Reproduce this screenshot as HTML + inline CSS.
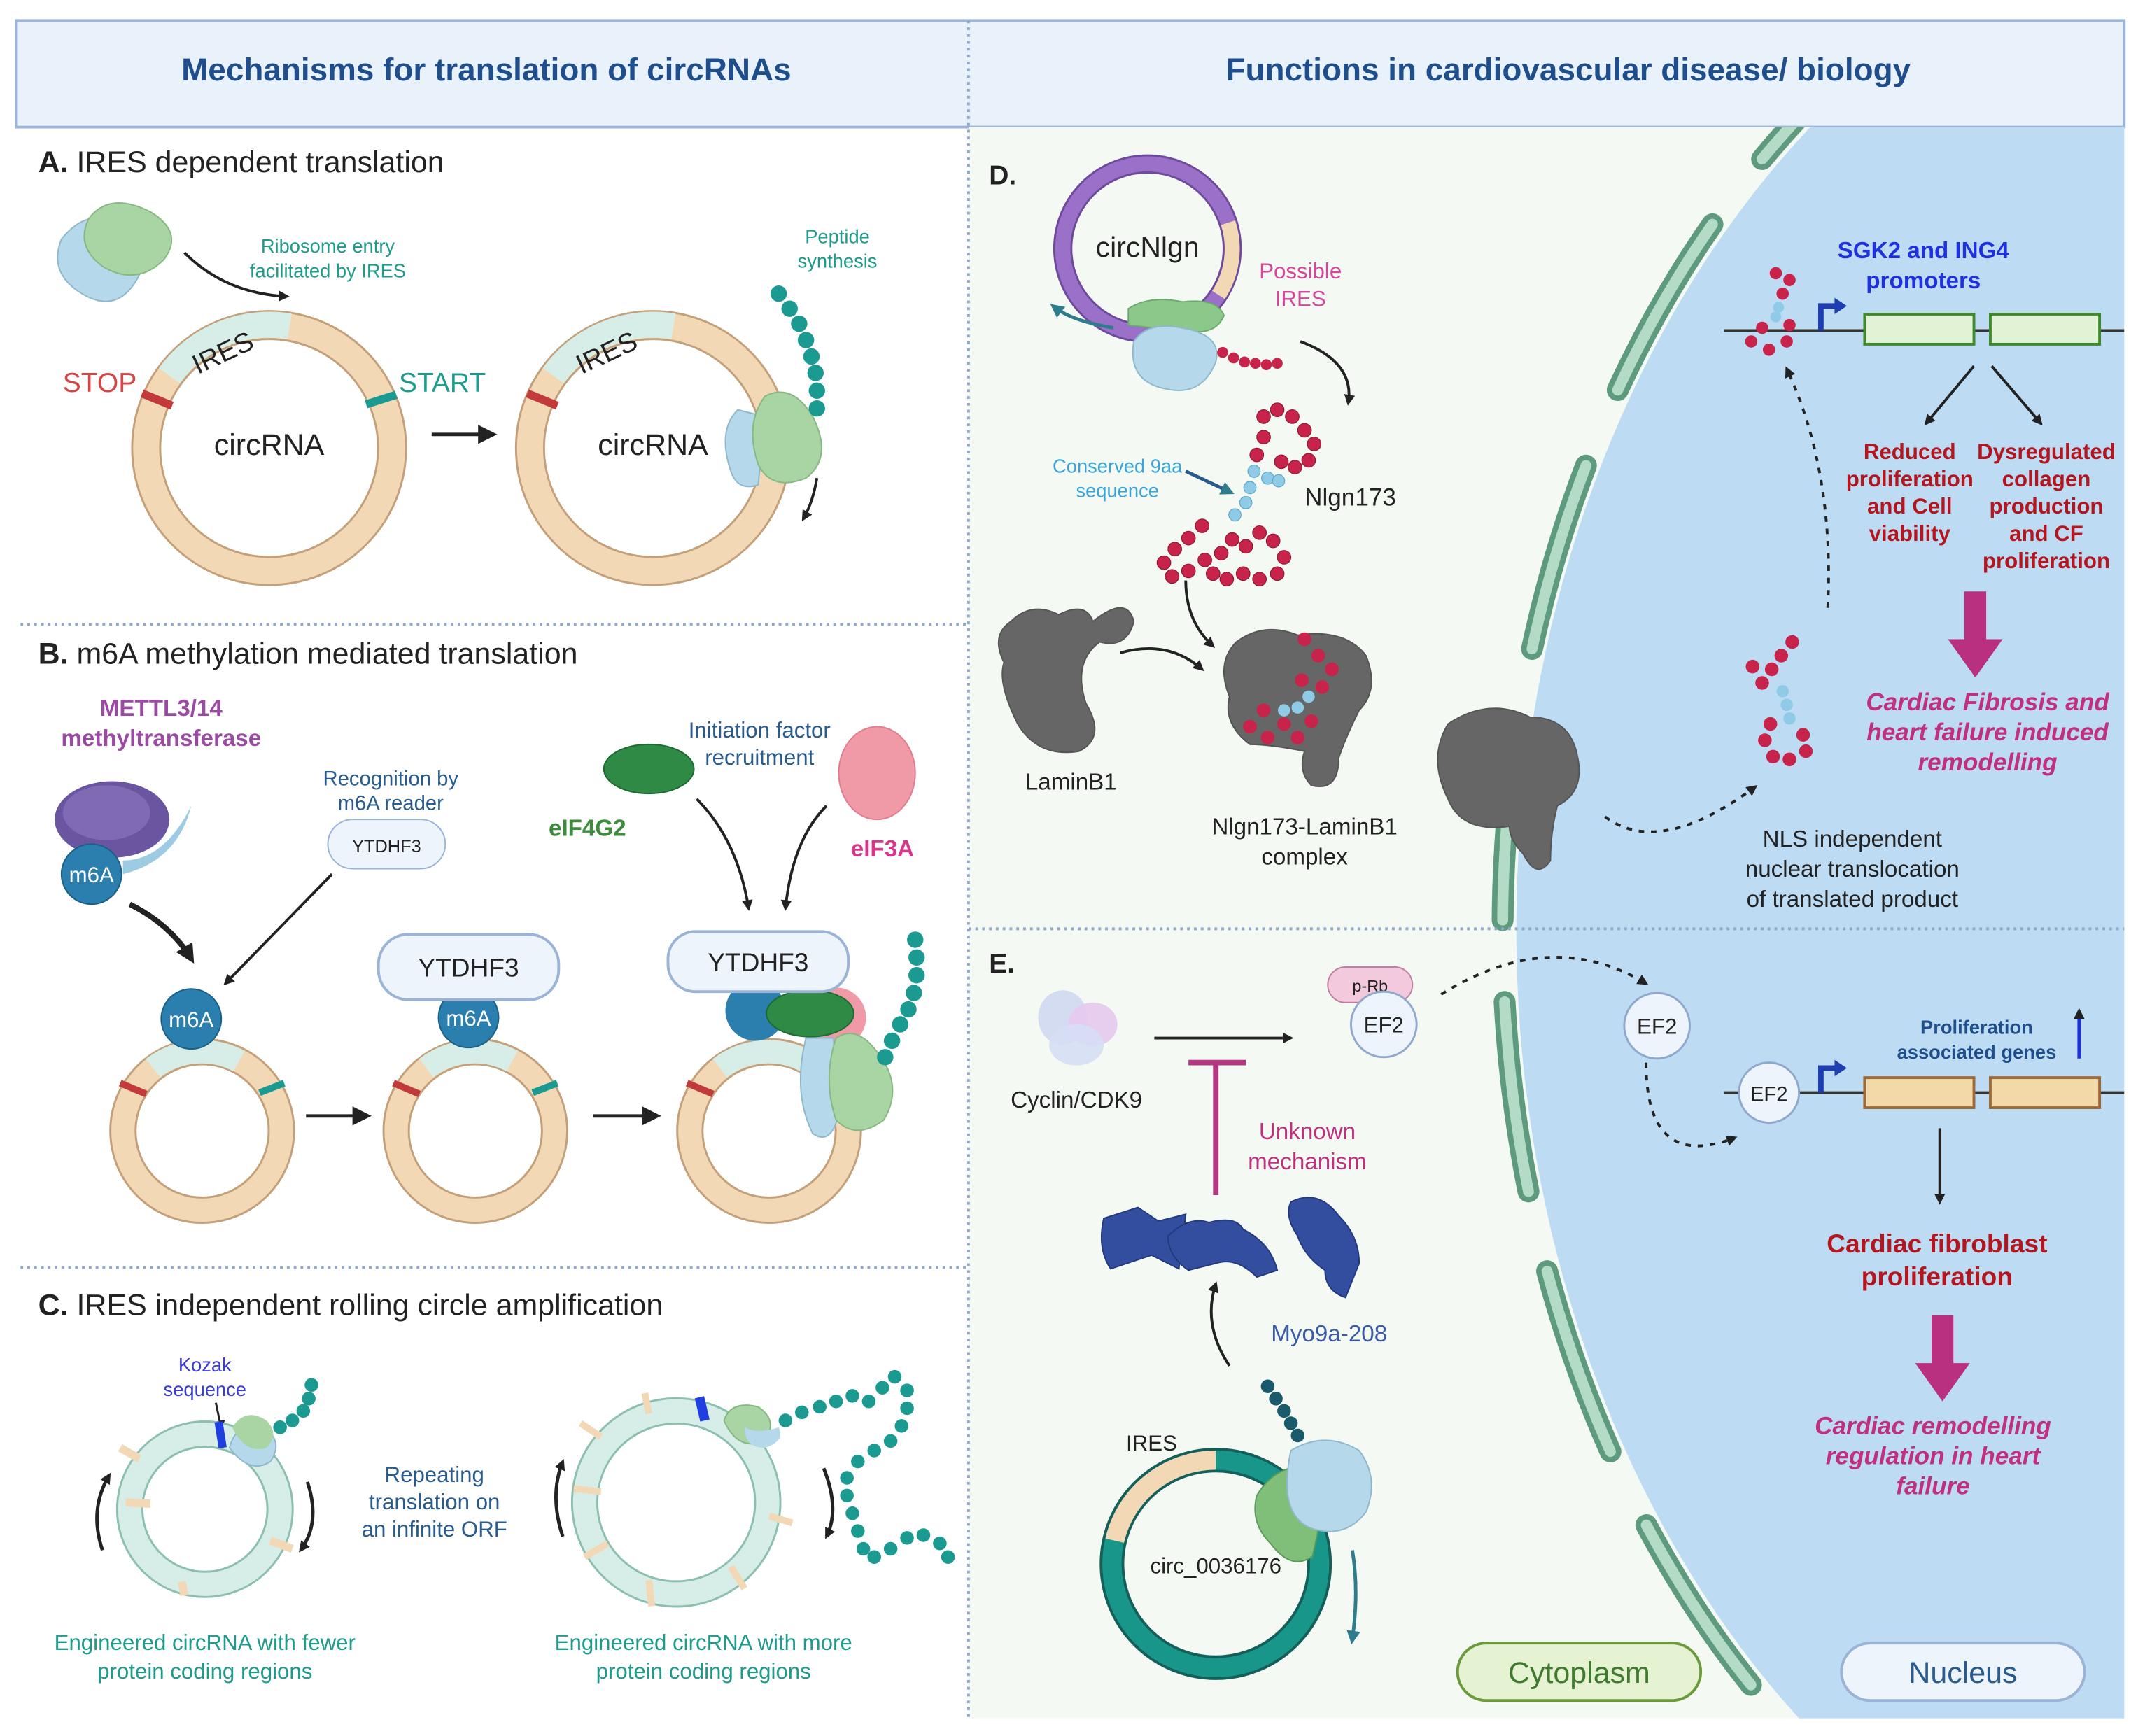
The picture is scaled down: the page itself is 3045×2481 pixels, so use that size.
<!DOCTYPE html>
<html><head><meta charset="utf-8">
<style>
html,body{margin:0;padding:0;background:#fff;width:3045px;height:2481px;overflow:hidden;}
svg{display:block;}
text{font-family:"Liberation Sans",Arial,sans-serif;}
</style></head>
<body>
<svg width="3045" height="2481" viewBox="0 0 1560 1271" xmlns="http://www.w3.org/2000/svg">
<defs>
<marker id="ah" markerWidth="8" markerHeight="8" refX="6" refY="4" orient="auto" markerUnits="userSpaceOnUse"><path d="M0,0 L8,4 L0,8 z" fill="#222"/></marker>
<marker id="ahb" markerWidth="14" markerHeight="14" refX="10" refY="7" orient="auto" markerUnits="userSpaceOnUse"><path d="M0,0 L14,7 L0,14 z" fill="#222"/></marker>
<marker id="aht" markerWidth="10" markerHeight="10" refX="6" refY="5" orient="auto" markerUnits="userSpaceOnUse"><path d="M0,0 L10,5 L0,10 z" fill="#2e7c8c"/></marker>
<clipPath id="rp"><rect x="709" y="93" width="846" height="1165"/></clipPath>
</defs>
<rect width="1560" height="1271" fill="#fff"/>
<rect x="12" y="15" width="1543" height="78" fill="#e9f1fb" stroke="#9db5da" stroke-width="2"/>
<text x="356" y="59" text-anchor="middle" font-size="23.5" font-weight="bold" fill="#1f4e8c">Mechanisms for translation of circRNAs</text>
<text x="1148" y="59" text-anchor="middle" font-size="23.5" font-weight="bold" fill="#1f4e8c">Functions in cardiovascular disease/ biology</text>
<rect x="709" y="93" width="846" height="1165" fill="#f4faf3"/>
<g clip-path="url(#rp)">
<ellipse cx="1700" cy="680" rx="590" ry="760" fill="#bddcf3"/>
<ellipse cx="1700" cy="680" rx="600" ry="772" fill="none" stroke="#5d9a7e" stroke-width="16" stroke-dasharray="140 60" stroke-linecap="round" stroke-dashoffset="30"/>
<ellipse cx="1700" cy="680" rx="600" ry="772" fill="none" stroke="#b3dbc6" stroke-width="8" stroke-dasharray="140 60" stroke-linecap="round" stroke-dashoffset="30"/>
</g>
<line x1="709" y1="15" x2="709" y2="1258" stroke="#8fa8cc" stroke-width="2" stroke-dasharray="2 3"/>
<line x1="709" y1="680" x2="1555" y2="680" stroke="#8fa8cc" stroke-width="2" stroke-dasharray="2 3"/>
<line x1="15" y1="457" x2="709" y2="457" stroke="#8fa8cc" stroke-width="2" stroke-dasharray="2 3"/>
<line x1="15" y1="928" x2="709" y2="928" stroke="#8fa8cc" stroke-width="2" stroke-dasharray="2 3"/>

<text x="28" y="126" font-size="22" fill="#222"><tspan font-weight="bold">A.</tspan> IRES dependent translation</text>
<g>
<path d="M45,175 q20,-25 45,-10 q25,15 10,40 q-15,25 -40,10 q-25,-15 -15,-40z" fill="#b5d8ea" stroke="#8fb8cc"/>
<path d="M65,160 q15,-20 45,-5 q25,15 10,35 q-20,20 -45,5 q-20,-15 -10,-35z" fill="#a9d4a3" stroke="#86b882"/>
</g>
<path d="M135,185 q30,30 75,32" fill="none" stroke="#222" stroke-width="2" marker-end="url(#ah)"/>
<text x="240" y="185" text-anchor="middle" font-size="14" fill="#1e9b8a">Ribosome entry</text>
<text x="240" y="203" text-anchor="middle" font-size="14" fill="#1e9b8a">facilitated by IRES</text>
<circle cx="197" cy="328" r="90" fill="none" stroke="#c3a07a" stroke-width="22"/>
<circle cx="197" cy="328" r="90" fill="none" stroke="#f3d8b6" stroke-width="19"/>
<path d="M124,275 A90,90 0 0 1 212,239" fill="none" stroke="#d6eee7" stroke-width="19"/>
<text x="163" y="265" font-size="20" fill="#222" transform="rotate(-25 163 258)" text-anchor="middle">IRES</text>
<line x1="104" y1="288" x2="126" y2="297" stroke="#c23a3a" stroke-width="6"/>
<line x1="268" y1="296" x2="290" y2="289" stroke="#1a9a90" stroke-width="6"/>
<text x="46" y="287" font-size="20" fill="#d64545">STOP</text>
<text x="292" y="287" font-size="20" fill="#1e9b8a">START</text>
<text x="197" y="333" text-anchor="middle" font-size="22" fill="#222">circRNA</text>
<line x1="316" y1="318" x2="360" y2="318" stroke="#222" stroke-width="2.5" marker-end="url(#ahb)"/>
<circle cx="478" cy="328" r="90" fill="none" stroke="#c3a07a" stroke-width="22"/>
<circle cx="478" cy="328" r="90" fill="none" stroke="#f3d8b6" stroke-width="19"/>
<path d="M405,275 A90,90 0 0 1 493,239" fill="none" stroke="#d6eee7" stroke-width="19"/>
<text x="444" y="265" font-size="20" fill="#222" transform="rotate(-25 444 258)" text-anchor="middle">IRES</text>
<line x1="386" y1="288" x2="408" y2="297" stroke="#c23a3a" stroke-width="6"/>
<text x="478" y="333" text-anchor="middle" font-size="22" fill="#222">circRNA</text>
<path d="M540,300 q-15,15 -5,45 q5,15 20,10 l5,-50z" fill="#b5d8ea" stroke="#8fb8cc"/>
<path d="M560,290 q-15,20 -5,50 q10,20 35,10 q20,-15 5,-45 q-15,-25 -35,-15z" fill="#a9d4a3" stroke="#86b882"/>
<g fill="#1a9a90"><circle cx="570" cy="215" r="6"/><circle cx="578" cy="226" r="6"/><circle cx="585" cy="237" r="6"/><circle cx="590" cy="249" r="6"/><circle cx="594" cy="261" r="6"/><circle cx="597" cy="273" r="6"/><circle cx="598" cy="286" r="6"/><circle cx="598" cy="299" r="6"/></g>
<text x="613" y="178" text-anchor="middle" font-size="14" fill="#1e9b8a">Peptide</text>
<text x="613" y="196" text-anchor="middle" font-size="14" fill="#1e9b8a">synthesis</text>
<path d="M598,350 q-3,18 -10,30" fill="none" stroke="#222" stroke-width="2" marker-end="url(#ah)"/>

<text x="28" y="486" font-size="22" fill="#222"><tspan font-weight="bold">B.</tspan> m6A methylation mediated translation</text>
<text x="118" y="524" text-anchor="middle" font-size="17" font-weight="bold" fill="#9b4aa3">METTL3/14</text>
<text x="118" y="546" text-anchor="middle" font-size="17" font-weight="bold" fill="#9b4aa3">methyltransferase</text>
<path d="M90,640 q40,-10 50,-50 q-20,40 -50,40z" fill="#9ccbe3"/>
<ellipse cx="82" cy="600" rx="42" ry="28" fill="#6a56a0"/>
<ellipse cx="78" cy="595" rx="32" ry="20" fill="#7e6ab5"/>
<circle cx="67" cy="640" r="22" fill="#2a7fae" stroke="#1a5f86"/>
<text x="67" y="646" text-anchor="middle" font-size="16" fill="#fff">m6A</text>
<path d="M95,662 q30,15 45,40" fill="none" stroke="#222" stroke-width="4" marker-end="url(#ahb)"/>
<text x="286" y="575" text-anchor="middle" font-size="15" fill="#2a5b8e">Recognition by</text>
<text x="286" y="593" text-anchor="middle" font-size="15" fill="#2a5b8e">m6A reader</text>
<rect x="240" y="600" width="86" height="36" rx="18" fill="#eef4fb" stroke="#9bb3d6"/>
<text x="283" y="624" text-anchor="middle" font-size="13" fill="#222">YTDHF3</text>
<line x1="243" y1="640" x2="165" y2="720" stroke="#222" stroke-width="2" marker-end="url(#ah)"/>
<text x="556" y="540" text-anchor="middle" font-size="16" fill="#2a5b8e">Initiation factor</text>
<text x="556" y="560" text-anchor="middle" font-size="16" fill="#2a5b8e">recruitment</text>
<ellipse cx="475" cy="563" rx="33" ry="18" fill="#2e8a45" stroke="#1d6a33"/>
<text x="430" y="612" text-anchor="middle" font-size="17" font-weight="bold" fill="#3d8c3d">eIF4G2</text>
<ellipse cx="642" cy="566" rx="28" ry="34" fill="#f09aa8" stroke="#e07c8e"/>
<text x="646" y="627" text-anchor="middle" font-size="17" font-weight="bold" fill="#d8368a">eIF3A</text>
<path d="M510,585 q30,30 38,80" fill="none" stroke="#222" stroke-width="2" marker-end="url(#ah)"/>
<path d="M605,590 q-25,25 -30,75" fill="none" stroke="#222" stroke-width="2" marker-end="url(#ah)"/>
<g>
<circle cx="148" cy="828" r="58" fill="none" stroke="#c3a07a" stroke-width="20"/>
<circle cx="148" cy="828" r="58" fill="none" stroke="#f3d8b6" stroke-width="17"/>
<path d="M112,782 A58,58 0 0 1 175,777" fill="none" stroke="#d6eee7" stroke-width="17"/>
<line x1="88" y1="793" x2="107" y2="801" stroke="#c23a3a" stroke-width="5"/>
<line x1="190" y1="800" x2="208" y2="793" stroke="#1a9a90" stroke-width="5"/>
<circle cx="140" cy="746" r="22" fill="#2a7fae" stroke="#1a5f86"/>
<text x="140" y="752" text-anchor="middle" font-size="16" fill="#fff">m6A</text>
</g>
<line x1="224" y1="817" x2="268" y2="817" stroke="#222" stroke-width="2.5" marker-end="url(#ahb)"/>
<g>
<circle cx="348" cy="828" r="58" fill="none" stroke="#c3a07a" stroke-width="20"/>
<circle cx="348" cy="828" r="58" fill="none" stroke="#f3d8b6" stroke-width="17"/>
<path d="M312,782 A58,58 0 0 1 375,777" fill="none" stroke="#d6eee7" stroke-width="17"/>
<line x1="288" y1="793" x2="307" y2="801" stroke="#c23a3a" stroke-width="5"/>
<line x1="390" y1="800" x2="408" y2="793" stroke="#1a9a90" stroke-width="5"/>
<circle cx="343" cy="745" r="22" fill="#2a7fae" stroke="#1a5f86"/>
<text x="343" y="751" text-anchor="middle" font-size="16" fill="#fff">m6A</text>
<rect x="277" y="684" width="132" height="48" rx="22" fill="#eef4fb" stroke="#9bb3d6" stroke-width="2"/>
<text x="343" y="715" text-anchor="middle" font-size="19" fill="#222">YTDHF3</text>
</g>
<line x1="434" y1="817" x2="480" y2="817" stroke="#222" stroke-width="2.5" marker-end="url(#ahb)"/>
<g>
<circle cx="563" cy="828" r="58" fill="none" stroke="#c3a07a" stroke-width="20"/>
<circle cx="563" cy="828" r="58" fill="none" stroke="#f3d8b6" stroke-width="17"/>
<path d="M527,782 A58,58 0 0 1 590,777" fill="none" stroke="#d6eee7" stroke-width="17"/>
<line x1="503" y1="793" x2="522" y2="801" stroke="#c23a3a" stroke-width="5"/>
<circle cx="553" cy="740" r="22" fill="#2a7fae"/>
<ellipse cx="612" cy="745" rx="22" ry="22" fill="#f09aa8"/>
<ellipse cx="593" cy="742" rx="32" ry="17" fill="#2e8a45" stroke="#1d6a33"/>
<path d="M590,760 q-10,40 5,70 q15,10 20,-20 l-5,-50z" fill="#b5d8ea" stroke="#8fb8cc"/>
<path d="M612,760 q-10,30 0,60 q15,15 35,0 q15,-25 -5,-50 q-15,-20 -30,-10z" fill="#a9d4a3" stroke="#86b882"/>
<rect x="489" y="682" width="132" height="44" rx="20" fill="#eef4fb" stroke="#9bb3d6" stroke-width="2"/>
<text x="555" y="711" text-anchor="middle" font-size="19" fill="#222">YTDHF3</text>
<g fill="#1a9a90"><circle cx="670" cy="688" r="6"/><circle cx="671" cy="701" r="6"/><circle cx="671" cy="714" r="6"/><circle cx="669" cy="727" r="6"/><circle cx="665" cy="739" r="6"/><circle cx="659" cy="750" r="6"/><circle cx="653" cy="762" r="6"/><circle cx="648" cy="774" r="6"/></g>
</g>

<text x="28" y="963" font-size="22" fill="#222"><tspan font-weight="bold">C.</tspan> IRES independent rolling circle amplification</text>
<text x="150" y="1004" text-anchor="middle" font-size="14" fill="#3a3ad8">Kozak</text>
<text x="150" y="1022" text-anchor="middle" font-size="14" fill="#3a3ad8">sequence</text>
<line x1="158" y1="1027" x2="162" y2="1046" stroke="#222" stroke-width="1.5" marker-end="url(#ah)"/>
<circle cx="150" cy="1105" r="55" fill="none" stroke="#8cbfb0" stroke-width="20"/>
<circle cx="150" cy="1105" r="55" fill="none" stroke="#d6eee7" stroke-width="17"/>
<g stroke="#f3d8b6" stroke-width="6"><line x1="92" y1="1100" x2="110" y2="1101"/><line x1="133" y1="1158" x2="135" y2="1168"/><line x1="198" y1="1128" x2="214" y2="1134"/><line x1="102" y1="1068" x2="88" y2="1060"/></g>
<line x1="160" y1="1041" x2="163" y2="1060" stroke="#1f3fe0" stroke-width="6"/>
<path d="M168,1060 q5,-20 25,-15 q15,10 5,25 q-15,10 -30,-10z" fill="#b5d8ea" stroke="#8fb8cc"/>
<path d="M170,1045 q10,-15 25,-5 q10,10 0,20 q-15,5 -25,-15z" fill="#a9d4a3"/>
<g fill="#1a9a90"><circle cx="205" cy="1045" r="5"/><circle cx="214" cy="1040" r="5"/><circle cx="222" cy="1033" r="5"/><circle cx="226" cy="1024" r="5"/><circle cx="228" cy="1014" r="5"/></g>
<path d="M75,1135 q-10,-30 5,-55" fill="none" stroke="#222" stroke-width="2.5" marker-end="url(#ah)"/>
<path d="M225,1085 q10,30 -5,50" fill="none" stroke="#222" stroke-width="2.5" marker-end="url(#ah)"/>
<text x="318" y="1085" text-anchor="middle" font-size="16" fill="#2a5b8e">Repeating</text>
<text x="318" y="1105" text-anchor="middle" font-size="16" fill="#2a5b8e">translation on</text>
<text x="318" y="1125" text-anchor="middle" font-size="16" fill="#2a5b8e">an infinite ORF</text>
<circle cx="495" cy="1100" r="67" fill="none" stroke="#8cbfb0" stroke-width="20"/>
<circle cx="495" cy="1100" r="67" fill="none" stroke="#d6eee7" stroke-width="17"/>
<g stroke="#f3d8b6" stroke-width="5"><line x1="420" y1="1090" x2="440" y2="1092"/><line x1="428" y1="1140" x2="445" y2="1130"/><line x1="475" y1="1157" x2="477" y2="1176"/><line x1="535" y1="1147" x2="545" y2="1163"/><line x1="563" y1="1110" x2="580" y2="1115"/><line x1="440" y1="1052" x2="425" y2="1042"/><line x1="475" y1="1035" x2="472" y2="1020"/></g>
<line x1="512" y1="1023" x2="516" y2="1040" stroke="#1f3fe0" stroke-width="7"/>
<path d="M530,1040 q5,-15 25,-10 q15,10 5,25 q-20,8 -30,-15z" fill="#a9d4a3" stroke="#86b882"/>
<path d="M545,1045 q10,5 25,0 q5,10 -10,15 q-15,0 -15,-15z" fill="#b5d8ea"/>
<g fill="#1a9a90"><circle cx="575" cy="1040" r="5"/><circle cx="587" cy="1034" r="5"/><circle cx="600" cy="1030" r="5"/><circle cx="612" cy="1026" r="5"/><circle cx="624" cy="1022" r="5"/><circle cx="636" cy="1026" r="5"/><circle cx="646" cy="1016" r="5"/><circle cx="655" cy="1008" r="5"/><circle cx="664" cy="1018" r="5"/><circle cx="664" cy="1031" r="5"/><circle cx="660" cy="1044" r="5"/><circle cx="652" cy="1055" r="5"/><circle cx="640" cy="1062" r="5"/><circle cx="628" cy="1070" r="5"/><circle cx="620" cy="1082" r="5"/><circle cx="620" cy="1095" r="5"/><circle cx="624" cy="1108" r="5"/><circle cx="628" cy="1121" r="5"/><circle cx="632" cy="1134" r="5"/><circle cx="640" cy="1140" r="5"/><circle cx="652" cy="1134" r="5"/><circle cx="664" cy="1126" r="5"/><circle cx="676" cy="1124" r="5"/><circle cx="688" cy="1130" r="5"/><circle cx="694" cy="1140" r="5"/></g>
<path d="M412,1125 q-10,-30 0,-55" fill="none" stroke="#222" stroke-width="2.5" marker-end="url(#ah)"/>
<path d="M603,1075 q12,30 2,50" fill="none" stroke="#222" stroke-width="2.5" marker-end="url(#ah)"/>
<text x="150" y="1208" text-anchor="middle" font-size="16" fill="#1e9b8a">Engineered circRNA with fewer</text>
<text x="150" y="1229" text-anchor="middle" font-size="16" fill="#1e9b8a">protein coding regions</text>
<text x="515" y="1208" text-anchor="middle" font-size="16" fill="#1e9b8a">Engineered circRNA with more</text>
<text x="515" y="1229" text-anchor="middle" font-size="16" fill="#1e9b8a">protein coding regions</text>

<text x="724" y="135" font-size="20" font-weight="bold" fill="#222">D.</text>
<circle cx="840" cy="182" r="62" fill="none" stroke="#6d4a9c" stroke-width="14"/>
<circle cx="840" cy="182" r="62" fill="none" stroke="#9a70c8" stroke-width="11"/>
<path d="M899,163 A62,62 0 0 1 892,216" fill="none" stroke="#f3d8b6" stroke-width="11"/>
<text x="840" y="188" text-anchor="middle" font-size="21" fill="#222">circNlgn</text>
<path d="M826,226 q15,-10 40,-5 q25,-3 30,10 q-5,12 -20,12 q-25,-2 -50,-5z" fill="#8cc88a" stroke="#6aaa6a"/>
<path d="M830,250 q10,-15 35,-10 q30,5 25,25 q-10,25 -35,20 q-30,-5 -25,-35z" fill="#b5d8ea" stroke="#8fb8cc"/>
<g fill="#c8234a"><circle cx="895" cy="258" r="4"/><circle cx="903" cy="262" r="4"/><circle cx="911" cy="265" r="4"/><circle cx="919" cy="266" r="4"/><circle cx="927" cy="267" r="4"/><circle cx="935" cy="266" r="4"/></g>
<path d="M815,240 q-30,-5 -43,-15" fill="none" stroke="#2e7c8c" stroke-width="2.5" marker-end="url(#aht)"/>
<text x="952" y="204" text-anchor="middle" font-size="16" fill="#d4479a">Possible</text>
<text x="952" y="224" text-anchor="middle" font-size="16" fill="#d4479a">IRES</text>
<path d="M952,250 q40,15 35,45" fill="none" stroke="#222" stroke-width="2" marker-end="url(#ah)"/>
<g fill="#c8234a" stroke="#8f1833" stroke-width="0.6">
<circle cx="925" cy="305" r="5"/><circle cx="935" cy="300" r="5"/><circle cx="946" cy="305" r="5"/><circle cx="955" cy="315" r="5"/><circle cx="962" cy="325" r="5"/><circle cx="958" cy="337" r="5"/><circle cx="948" cy="342" r="5"/><circle cx="938" cy="338" r="5"/><circle cx="925" cy="320" r="5"/><circle cx="920" cy="333" r="5"/>
<circle cx="880" cy="385" r="5"/><circle cx="870" cy="394" r="5"/><circle cx="860" cy="402" r="5"/><circle cx="852" cy="412" r="5"/><circle cx="858" cy="422" r="5"/><circle cx="870" cy="418" r="5"/><circle cx="882" cy="410" r="5"/><circle cx="894" cy="405" r="5"/><circle cx="902" cy="395" r="5"/><circle cx="912" cy="400" r="5"/><circle cx="922" cy="390" r="5"/><circle cx="932" cy="396" r="5"/><circle cx="940" cy="408" r="5"/><circle cx="935" cy="420" r="5"/><circle cx="922" cy="424" r="5"/><circle cx="910" cy="420" r="5"/><circle cx="898" cy="424" r="5"/><circle cx="888" cy="420" r="5"/></g>
<g fill="#8fcbe6" stroke="#5ba8cc" stroke-width="0.6"><circle cx="918" cy="345" r="4.5"/><circle cx="928" cy="350" r="4.5"/><circle cx="915" cy="357" r="4.5"/><circle cx="912" cy="368" r="4.5"/><circle cx="904" cy="377" r="4.5"/><circle cx="936" cy="352" r="4.5"/></g>
<text x="818" y="346" text-anchor="middle" font-size="14" fill="#3aa3d8">Conserved 9aa</text>
<text x="818" y="364" text-anchor="middle" font-size="14" fill="#3aa3d8">sequence</text>
<line x1="868" y1="345" x2="900" y2="360" stroke="#2a5b8e" stroke-width="2.5" marker-end="url(#aht)"/>
<text x="955" y="370" font-size="18" fill="#222">Nlgn173</text>
<path d="M868,425 q0,30 20,48" fill="none" stroke="#222" stroke-width="2" marker-end="url(#ah)"/>
<path d="M740,455 q15,-15 35,-5 q20,-10 25,5 q25,-20 30,0 q-5,20 -25,15 q-20,15 -10,45 q15,25 -5,35 q-30,5 -45,-20 q-15,-30 -10,-45 q-10,-20 5,-30z" fill="#666" stroke="#555"/>
<text x="784" y="578" text-anchor="middle" font-size="17" fill="#222">LaminB1</text>
<path d="M820,478 q35,-10 60,12" fill="none" stroke="#222" stroke-width="2" marker-end="url(#ah)"/>
<path d="M905,470 q20,-15 45,-5 q35,-5 50,15 q10,25 -5,40 q-10,20 -15,35 q0,25 -20,20 q-10,-10 -5,-25 q-25,-5 -40,-5 q-20,-15 -15,-35 q-10,-25 5,-40z" fill="#666" stroke="#555"/>
<g fill="#c8234a"><circle cx="955" cy="468" r="5"/><circle cx="965" cy="480" r="5"/><circle cx="975" cy="490" r="5"/><circle cx="968" cy="503" r="5"/><circle cx="953" cy="498" r="5"/><circle cx="925" cy="520" r="5"/><circle cx="915" cy="532" r="5"/><circle cx="928" cy="540" r="5"/><circle cx="940" cy="530" r="5"/><circle cx="950" cy="540" r="5"/><circle cx="960" cy="528" r="5"/></g>
<g fill="#8fcbe6"><circle cx="958" cy="510" r="4.5"/><circle cx="950" cy="518" r="4.5"/><circle cx="940" cy="520" r="4.5"/></g>
<text x="955" y="611" text-anchor="middle" font-size="17" fill="#222">Nlgn173-LaminB1</text>
<text x="955" y="633" text-anchor="middle" font-size="17" fill="#222">complex</text>
<path d="M1060,530 q30,-20 60,-5 q30,0 35,30 q5,25 -15,35 q-5,20 -5,40 q-10,15 -20,-5 q-10,-10 -10,-20 q-35,5 -45,-20 q-15,-30 0,-55z" fill="#666" stroke="#555"/>
<path d="M1175,598 q40,30 110,-22" fill="none" stroke="#222" stroke-width="2" stroke-dasharray="4 5" marker-end="url(#ah)"/>
<text x="1356" y="620" text-anchor="middle" font-size="17" fill="#222">NLS independent</text>
<text x="1356" y="642" text-anchor="middle" font-size="17" fill="#222">nuclear translocation</text>
<text x="1356" y="664" text-anchor="middle" font-size="17" fill="#222">of translated product</text>
<g fill="#c8234a"><circle cx="1283" cy="488" r="5"/><circle cx="1290" cy="500" r="5"/><circle cx="1297" cy="490" r="5"/><circle cx="1304" cy="480" r="5"/><circle cx="1312" cy="470" r="5"/><circle cx="1296" cy="530" r="5"/><circle cx="1292" cy="542" r="5"/><circle cx="1298" cy="554" r="5"/><circle cx="1310" cy="556" r="5"/><circle cx="1322" cy="550" r="5"/><circle cx="1320" cy="538" r="5"/></g>
<g fill="#8fcbe6"><circle cx="1305" cy="506" r="4.5"/><circle cx="1308" cy="516" r="4.5"/><circle cx="1310" cy="526" r="4.5"/></g>
<path d="M1338,445 q5,-100 -30,-175" fill="none" stroke="#222" stroke-width="2" stroke-dasharray="4 5" marker-end="url(#ah)"/>
<line x1="1262" y1="242" x2="1555" y2="242" stroke="#333" stroke-width="2"/>
<g fill="#c8234a"><circle cx="1300" cy="200" r="4.5"/><circle cx="1310" cy="205" r="4.5"/><circle cx="1305" cy="215" r="4.5"/><circle cx="1290" cy="240" r="4.5"/><circle cx="1282" cy="250" r="4.5"/><circle cx="1295" cy="256" r="4.5"/><circle cx="1308" cy="250" r="4.5"/><circle cx="1310" cy="238" r="4.5"/></g>
<g fill="#8fcbe6"><circle cx="1302" cy="225" r="4"/><circle cx="1300" cy="232" r="4"/></g>
<path d="M1333,242 v-18 h12" fill="none" stroke="#1f3fb0" stroke-width="4"/><path d="M1343,218 l9,6 l-9,6z" fill="#1f3fb0"/>
<rect x="1365" y="230" width="80" height="22" fill="#e1f2d5" stroke="#3f8a2f" stroke-width="2"/>
<rect x="1457" y="230" width="80" height="22" fill="#e1f2d5" stroke="#3f8a2f" stroke-width="2"/>
<text x="1408" y="189" text-anchor="middle" font-size="17" font-weight="bold" fill="#1f30e0">SGK2 and ING4</text>
<text x="1408" y="211" text-anchor="middle" font-size="17" font-weight="bold" fill="#1f30e0">promoters</text>
<line x1="1445" y1="268" x2="1410" y2="310" stroke="#222" stroke-width="2" marker-end="url(#ah)"/>
<line x1="1458" y1="268" x2="1494" y2="310" stroke="#222" stroke-width="2" marker-end="url(#ah)"/>
<g font-size="16" font-weight="bold" fill="#b3161e" text-anchor="middle">
<text x="1398" y="336">Reduced</text><text x="1398" y="356">proliferation</text><text x="1398" y="376">and Cell</text><text x="1398" y="396">viability</text>
<text x="1498" y="336">Dysregulated</text><text x="1498" y="356">collagen</text><text x="1498" y="376">production</text><text x="1498" y="396">and CF</text><text x="1498" y="416">proliferation</text></g>
<path d="M1438,433 h16 v35 h12 l-20,28 l-20,-28 h12z" fill="#b8307f"/>
<g font-size="18" font-weight="bold" font-style="italic" fill="#c0307f" text-anchor="middle">
<text x="1455" y="520">Cardiac Fibrosis and</text><text x="1455" y="542">heart failure induced</text><text x="1455" y="564">remodelling</text></g>

<text x="724" y="712" font-size="20" font-weight="bold" fill="#222">E.</text>
<ellipse cx="778" cy="745" rx="18" ry="20" fill="#d0d8f2" opacity="0.9"/>
<ellipse cx="800" cy="750" rx="18" ry="16" fill="#e6c9ee" opacity="0.9"/>
<ellipse cx="788" cy="765" rx="20" ry="15" fill="#d6def5" opacity="0.9"/>
<text x="788" y="811" text-anchor="middle" font-size="17" fill="#222">Cyclin/CDK9</text>
<line x1="845" y1="760" x2="945" y2="760" stroke="#222" stroke-width="2" marker-end="url(#ah)"/>
<line x1="890" y1="778" x2="890" y2="875" stroke="#b43580" stroke-width="4"/>
<line x1="870" y1="778" x2="912" y2="778" stroke="#b43580" stroke-width="4"/>
<text x="957" y="834" text-anchor="middle" font-size="17" fill="#c0307f">Unknown</text>
<text x="957" y="856" text-anchor="middle" font-size="17" fill="#c0307f">mechanism</text>
<rect x="972" y="708" width="62" height="26" rx="13" fill="#f2c9dd" stroke="#c07fa0"/>
<text x="1003" y="726" text-anchor="middle" font-size="12" fill="#222">p-Rb</text>
<circle cx="1013" cy="750" r="24" fill="#eef4fb" stroke="#8fa8cc" stroke-width="1.5"/>
<text x="1013" y="756" text-anchor="middle" font-size="16" fill="#222">EF2</text>
<path d="M1055,728 q80,-50 150,-8" fill="none" stroke="#222" stroke-width="2" stroke-dasharray="4 5" marker-end="url(#ah)"/>
<circle cx="1213" cy="751" r="24" fill="#eef4fb" stroke="#8fa8cc" stroke-width="1.5"/>
<text x="1213" y="757" text-anchor="middle" font-size="16" fill="#222">EF2</text>
<path d="M1205,778 q0,80 65,55" fill="none" stroke="#222" stroke-width="2" stroke-dasharray="4 5" marker-end="url(#ah)"/>
<line x1="1262" y1="800" x2="1555" y2="800" stroke="#333" stroke-width="2"/>
<circle cx="1295" cy="800" r="22" fill="#eef4fb" stroke="#8fa8cc" stroke-width="1.5"/>
<text x="1295" y="806" text-anchor="middle" font-size="15" fill="#222">EF2</text>
<path d="M1333,800 v-18 h12" fill="none" stroke="#1f3fb0" stroke-width="4"/><path d="M1343,776 l9,6 l-9,6z" fill="#1f3fb0"/>
<rect x="1365" y="789" width="80" height="22" fill="#f3d8a8" stroke="#9a6a3a" stroke-width="2"/>
<rect x="1457" y="789" width="80" height="22" fill="#f3d8a8" stroke="#9a6a3a" stroke-width="2"/>
<text x="1447" y="757" text-anchor="middle" font-size="14" font-weight="bold" fill="#1f4e8c">Proliferation</text>
<text x="1447" y="775" text-anchor="middle" font-size="14" font-weight="bold" fill="#1f4e8c">associated genes</text>
<line x1="1522" y1="775" x2="1522" y2="740" stroke="#1f30e0" stroke-width="2.5" marker-end="url(#ah)"/>
<line x1="1420" y1="826" x2="1420" y2="880" stroke="#222" stroke-width="2" marker-end="url(#ah)"/>
<text x="1418" y="917" text-anchor="middle" font-size="19" font-weight="bold" fill="#b3161e">Cardiac fibroblast</text>
<text x="1418" y="941" text-anchor="middle" font-size="19" font-weight="bold" fill="#b3161e">proliferation</text>
<path d="M1414,963 h16 v35 h12 l-20,28 l-20,-28 h12z" fill="#b8307f"/>
<g font-size="18" font-weight="bold" font-style="italic" fill="#c0307f" text-anchor="middle">
<text x="1415" y="1050">Cardiac remodelling</text><text x="1415" y="1072">regulation in heart</text><text x="1415" y="1094">failure</text></g>
<g fill="#334e9e" stroke="#223a80">
<path d="M808,892 l25,-8 l15,10 l20,-5 l-5,40 l-20,-10 l-30,10 q-10,-15 -5,-37z"/>
<path d="M855,905 q15,-15 30,-10 q20,-5 25,5 q20,10 25,30 l-15,5 q-15,-15 -30,-10 l-20,5 q-15,-10 -15,-25z"/>
<path d="M945,880 q20,-10 35,10 q15,15 15,35 l-10,25 q-15,-5 -15,-20 q-15,-10 -20,-25 q-10,-15 -5,-25z"/></g>
<text x="973" y="982" text-anchor="middle" font-size="17" fill="#3a5ca8">Myo9a-208</text>
<path d="M900,1000 q-20,-30 -10,-60" fill="none" stroke="#222" stroke-width="2" marker-end="url(#ah)"/>
<circle cx="890" cy="1145" r="76" fill="none" stroke="#145f5a" stroke-width="18"/>
<circle cx="890" cy="1145" r="76" fill="none" stroke="#19968a" stroke-width="14"/>
<path d="M816,1128 A76,76 0 0 1 890,1069" fill="none" stroke="#f3d8b6" stroke-width="14"/>
<text x="843" y="1062" text-anchor="middle" font-size="16" fill="#222">IRES</text>
<text x="890" y="1152" text-anchor="middle" font-size="16" fill="#222">circ_0036176</text>
<path d="M920,1095 q15,-25 40,-20 q15,20 5,45 q-5,25 -5,20 q-15,10 -30,-10 q-15,-15 -10,-35z" fill="#7fbf7a" stroke="#5a9a5a"/>
<path d="M945,1062 q25,-15 50,0 q15,20 5,45 q-15,20 -40,12 q-25,-10 -15,-57z" fill="#b5d8ea" stroke="#8fb8cc"/>
<g fill="#1a5a6a"><circle cx="928" cy="1015" r="5"/><circle cx="934" cy="1024" r="5"/><circle cx="940" cy="1033" r="5"/><circle cx="945" cy="1042" r="5"/><circle cx="950" cy="1051" r="5"/></g>
<path d="M990,1135 q5,30 0,65" fill="none" stroke="#2e7c8c" stroke-width="2.5" marker-end="url(#aht)"/>
<rect x="1067" y="1203" width="178" height="42" rx="21" fill="#e5f3d2" stroke="#6a9a3a" stroke-width="2"/>
<text x="1156" y="1232" text-anchor="middle" font-size="22" fill="#3f7a2f">Cytoplasm</text>
<rect x="1348" y="1203" width="178" height="42" rx="21" fill="#eef4fb" stroke="#9bb3d6" stroke-width="2"/>
<text x="1437" y="1232" text-anchor="middle" font-size="22" fill="#2a5b8e">Nucleus</text>
</svg>
</body></html>
